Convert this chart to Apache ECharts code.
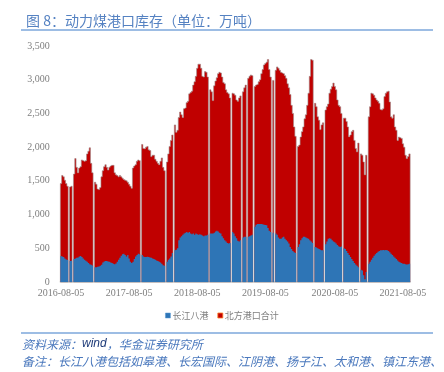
<!DOCTYPE html>
<html><head><meta charset="utf-8">
<script src="https://cdn.jsdelivr.net/npm/echarts@6/dist/echarts.min.js"></script>
<style>html,body{margin:0;padding:0;background:#fff}#c{width:444px;height:372px}</style>
</head><body><div id="c"></div>
<script>
// Weekly data from 2016-08-05 (0 = missing week)
const startDate = '2016-08-05';
const seriesNames = ['长江八港', '北方港口合计'];
const tickLabels = ['2016-08-05', '2017-08-05', '2018-08-05', '2019-08-05', '2020-08-05', '2021-08-05'];
const yTicks = [0, 500, 1000, 1500, 2000, 2500, 3000, 3500];

const changjiang = [
385,380,370,350,335,325,0,310,315,0,
340,350,360,365,380,385,370,350,330,315,300,280,265,255,245,0,
220,218,225,230,240,255,290,305,310,310,305,300,290,280,270,265,275,300,330,360,390,410,420,400,380,
400,350,300,280,300,340,380,400,420,410,0,
400,380,370,370,375,370,365,360,350,340,330,320,310,300,290,270,250,240,0,
300,330,350,380,430,0,
470,480,500,620,660,680,700,720,730,740,730,740,720,710,720,700,720,710,700,710,700,690,680,690,690,700,0,
720,720,720,730,750,760,750,730,720,680,650,620,600,580,570,580,0,
740,720,680,650,610,600,620,0,
660,670,670,0,
670,680,690,700,0,
820,850,860,860,860,860,855,850,845,840,800,760,740,0,
730,0,
720,700,660,640,640,660,670,640,620,600,570,520,490,460,440,430,0,
520,560,620,650,670,670,660,650,640,620,600,580,0,
520,510,500,490,480,470,470,0,
560,600,640,650,640,620,600,590,570,550,530,520,525,0,
500,490,460,430,400,370,340,310,280,260,240,220,0,
180,170,100,40,150,0,
270,300,330,360,390,410,430,450,460,470,470,475,470,475,470,460,440,420,400,380,360,340,320,300,290,280,270,270,265,260,265,270
];
const beifang = [
1075,1200,1190,1160,1125,1095,0,1100,1105,0,
1260,1480,1340,1255,1310,1325,1440,1450,1460,1485,1600,1660,1725,1505,1375,0,
1260,1232,1155,1140,1160,1305,1360,1405,1430,1390,1355,1400,1430,1450,1460,1355,1315,1280,1230,1220,1170,1130,1100,1110,1120,
1080,1100,1120,1110,1390,1380,1360,1390,1390,1390,0,
1640,1600,1605,1630,1635,1590,1585,1500,1530,1540,1490,1470,1450,1440,1500,1570,1450,1410,0,
1480,1570,1660,1720,1750,0,
1860,1740,1750,1820,1860,1800,1740,1850,1850,1920,1950,2050,2090,2120,2200,2270,2330,2460,2530,2520,2470,2360,2360,2430,2420,2340,0,
2130,2100,1970,2180,2230,2270,2340,2380,2380,2360,2310,2320,2250,2230,2220,2150,0,
2060,2070,2090,2050,2070,2130,2140,0,
2160,2210,2250,0,
2350,2370,2380,2360,0,
2080,2070,2070,2110,2140,2230,2295,2370,2395,2420,2500,2390,2300,0,
2260,0,
2420,2490,2510,2500,2470,2440,2420,2420,2400,2340,2310,2260,2130,2040,1860,1730,0,
1490,1470,1530,1580,1630,1750,1820,1970,2160,2430,2700,2710,0,
2130,2090,1950,1910,1780,1860,1890,0,
1990,2000,2000,2150,2220,2280,2350,2310,2280,2150,2090,2080,1975,0,
1930,1940,1920,1870,1755,1810,1890,1940,1820,1720,1690,1840,0,
1720,1710,1680,1550,1730,0,
2180,2300,2470,2430,2380,2320,2270,2230,2190,2090,2080,2095,2280,2325,2350,2370,2230,2030,2030,2100,1940,1910,1780,1850,1850,1850,1780,1730,1615,1570,1595,1630
];

// weekly category dates
const DAY = 86400000;
const t0 = Date.parse(startDate);
const categories = changjiang.map((_, i) => new Date(t0 + i * 7 * DAY).toISOString().slice(0, 10));
// category index nearest to each tick label date
const tickIdx = {};
tickLabels.forEach(lab => {
  const t = Date.parse(lab);
  let best = 0, bd = Infinity;
  categories.forEach((c, i) => { const dd = Math.abs(Date.parse(c) - t); if (dd < bd) { bd = dd; best = i; } });
  tickIdx[best] = lab;
});
// stacked top of the northern-port layer
const stackedTop = changjiang.map((v, i) => v + beifang[i]);

const chart = echarts.init(document.getElementById('c'), null, {renderer: 'canvas'});
const numFont = 'Liberation Serif';
const cjk = 'Noto Sans CJK SC';
const BLUE = '#2e75b6', RED = '#c00000';

// draws a stepped area (one polygon per run of non-missing weeks) through the axis scales
function layerRenderer(values, stroke, lw) {
  return function (params, api) {
    if (params.dataIndex !== 0) return null;
    const w = api.size([1, 0])[0];
    const children = [];
    let run = [];
    const flush = () => {
      if (!run.length) return;
      const pts = [];
      run.forEach(i => {
        const c = api.coord([i, values[i]]);
        pts.push([c[0] - w / 2, c[1]], [c[0] + w / 2, c[1]]);
      });
      const e = api.coord([run[run.length - 1], 0]);
      const s = api.coord([run[0], 0]);
      pts.push([e[0] + w / 2, e[1]], [s[0] - w / 2, s[1]]);
      children.push({
        type: 'polygon', shape: {points: pts},
        style: {fill: api.visual('color'), stroke: stroke || null, lineWidth: lw || 0}
      });
      run = [];
    };
    values.forEach((v, i) => { if (v > 0) run.push(i); else flush(); });
    flush();
    return {type: 'group', children};
  };
}

chart.setOption({
  animation: false,
  backgroundColor: '#fff',
  title: {
    text: '图 8：动力煤港口库存（单位：万吨）',
    left: 21, top: 9,
    textStyle: {fontSize: 14, fontWeight: 'normal', color: '#5582c2', fontFamily: cjk}
  },
  legend: {
    data: [
      {name: seriesNames[0], itemStyle: {color: BLUE, borderColor: '#5b9bd5', borderWidth: 0.5}},
      {name: seriesNames[1], itemStyle: {color: RED, borderColor: '#ff7f27', borderWidth: 0.8}}
    ],
    left: 'center', top: 306,
    icon: 'rect', itemWidth: 5, itemHeight: 5, itemGap: 9,
    textStyle: {fontSize: 9, color: '#7f7f7f', fontFamily: cjk, padding: [0, 0, 0, -3]}
  },
  grid: {left: 60.35, right: 33.85, top: 46, bottom: 90, containLabel: false},
  xAxis: {
    type: 'category', data: categories, boundaryGap: true,
    axisLine: {show: true, lineStyle: {color: '#c8c8c8', width: 1.5}},
    axisTick: {show: false},
    splitLine: {show: false},
    axisLabel: {
      interval: (idx) => tickIdx[idx] !== undefined,
      formatter: (v, idx) => tickIdx[idx] || '',
      color: '#7f7f7f', fontSize: 10, fontFamily: numFont, margin: 6, hideOverlap: false
    }
  },
  yAxis: {
    type: 'value', min: yTicks[0], max: yTicks[yTicks.length - 1], interval: yTicks[1] - yTicks[0],
    axisLine: {show: false}, axisTick: {show: false}, splitLine: {show: false},
    axisLabel: {color: '#7f7f7f', fontSize: 10, fontFamily: numFont, margin: 10.5,
      formatter: v => v.toLocaleString('en-US')}
  },
  series: [
    {
      name: seriesNames[1], type: 'custom', data: stackedTop.map((v, i) => [i, v]),
      renderItem: layerRenderer(stackedTop, '#a08c8c', 0.6),
      encode: {x: 0, y: 1}, color: RED, itemStyle: {color: RED}, z: 2
    },
    {
      name: seriesNames[0], type: 'custom', data: changjiang.map((v, i) => [i, v]),
      renderItem: layerRenderer(changjiang, null, 0),
      encode: {x: 0, y: 1}, color: BLUE, itemStyle: {color: BLUE}, z: 3
    }
  ],
  graphic: [
    {type: 'line', shape: {x1: 21, y1: 30, x2: 433, y2: 30}, style: {stroke: '#3d7cc9', lineWidth: 1.2}},
    {type: 'line', shape: {x1: 21, y1: 333, x2: 433, y2: 333}, style: {stroke: '#3d7cc9', lineWidth: 1.2}},
    {type: 'text', left: 22, top: 338, style: {
      text: '{a|资料来源：}{b|wind}{a|，华金证券研究所}',
      rich: {
        a: {fontSize: 12, fontStyle: 'italic', fontFamily: cjk, fill: '#4a78bd'},
        b: {fontSize: 12, fontStyle: 'italic', fontFamily: 'Liberation Sans', fill: '#1f3c7a'}
      }
    }},
    {type: 'text', left: 22, top: 355, style: {
      text: '备注：长江八港包括如皋港、长宏国际、江阴港、扬子江、太和港、镇江东港、',
      fontSize: 12, fontStyle: 'italic', fontFamily: cjk, fill: '#4a78bd'
    }}
  ]
});
</script></body></html>
